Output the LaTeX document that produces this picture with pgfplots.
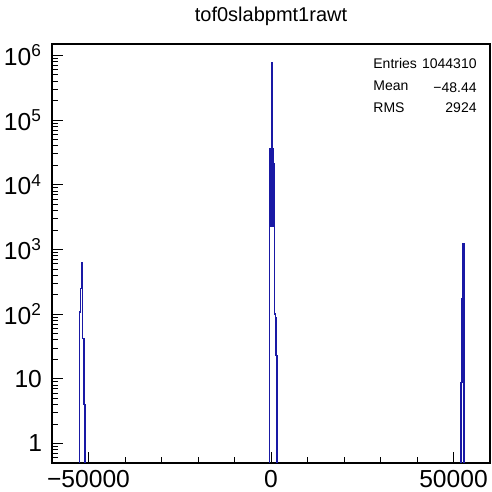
\documentclass[border=0pt]{standalone}
\usepackage{pgfplots}
\pgfplotsset{compat=1.18}
\usepackage{fontspec}
\setmainfont{Liberation Sans}
\definecolor{histblue}{RGB}{25,25,165}

% bins: (left edge, content); first/last point drop the outline to the floor
\pgfplotstableread{
x y
-52500 0.001
-52500 107
-52200 250
-51900 630
-51600 42
-51300 4
-51000 0.001
}\leftpeak
\pgfplotstableread{
x y
-400 0.001
-400 4400
-200 36000
0 2300
200 780000
400 36000
600 21000
800 2300
1000 100
1200 89
1400 23
1600 0.001
}\centerpeak
\pgfplotstableread{
x y
52000 0.001
52000 8.8
52250 175
52550 1230
52850 0.001
}\rightpeak

\begin{document}
\begin{tikzpicture}
\useasboundingbox (0pt,0pt) rectangle (246pt,246pt);
\begin{axis}[
    at={(26pt,14.5pt)}, anchor=south west,
    scale only axis, width=219pt, height=209.5pt,
    xmin=-60000, xmax=60000,
    ymode=log, ymin=0.5, ymax=1.5e6,
    xtick={-50000,0,50000},
    xticklabels={−50000,0,50000},
    minor xtick={-60000,-40000,-30000,-20000,-10000,10000,20000,30000,40000,60000},
    scaled x ticks=false,
    ytick={1,10,100,1000,10000,100000,1000000},
    yticklabels={1,10,10\textsuperscript{2},10\textsuperscript{3},10\textsuperscript{4},10\textsuperscript{5},10\textsuperscript{6}},
    minor ytick={0.6,0.7,0.8,0.9,2,3,4,5,6,7,8,9,20,30,40,50,60,70,80,90,
      200,300,400,500,600,700,800,900,2000,3000,4000,5000,6000,7000,8000,9000,
      20000,30000,40000,50000,60000,70000,80000,90000,
      200000,300000,400000,500000,600000,700000,800000,900000},
    tick pos=left, tick align=inside,
    major tick length=5.5pt, minor tick length=3pt,
    tick style={black, line width=0.4pt},
    tick label style={font=\fontsize{12.3}{14}\selectfont},
    yticklabel style={xshift=-1.5pt},
    axis line style={line width=0.6pt},
]
\addplot[const plot, histblue, line width=0.8pt] table[x=x,y=y] {\leftpeak};
\addplot[const plot, histblue, line width=0.8pt] table[x=x,y=y] {\centerpeak};
\addplot[const plot, histblue, line width=0.8pt] table[x=x,y=y] {\rightpeak};
\end{axis}
\node[font=\fontsize{10}{12}\selectfont] at (135.5pt,238pt) {tof0slabpmt1rawt};
\begin{scope}[font=\fontsize{7}{8}\selectfont]
\node[anchor=base west,inner sep=0pt] at (186.5pt,211.5pt) {Entries};
\node[anchor=base east,inner sep=0pt] at (238.5pt,211.5pt) {1044310};
\node[anchor=base west,inner sep=0pt] at (186.5pt,200.5pt) {Mean};
\node[anchor=base east,inner sep=0pt] at (238.5pt,199.5pt) {−48.44};
\node[anchor=base west,inner sep=0pt] at (186.5pt,189.5pt) {RMS};
\node[anchor=base east,inner sep=0pt] at (238.5pt,189.5pt) {2924};
\end{scope}
\end{tikzpicture}
\end{document}
